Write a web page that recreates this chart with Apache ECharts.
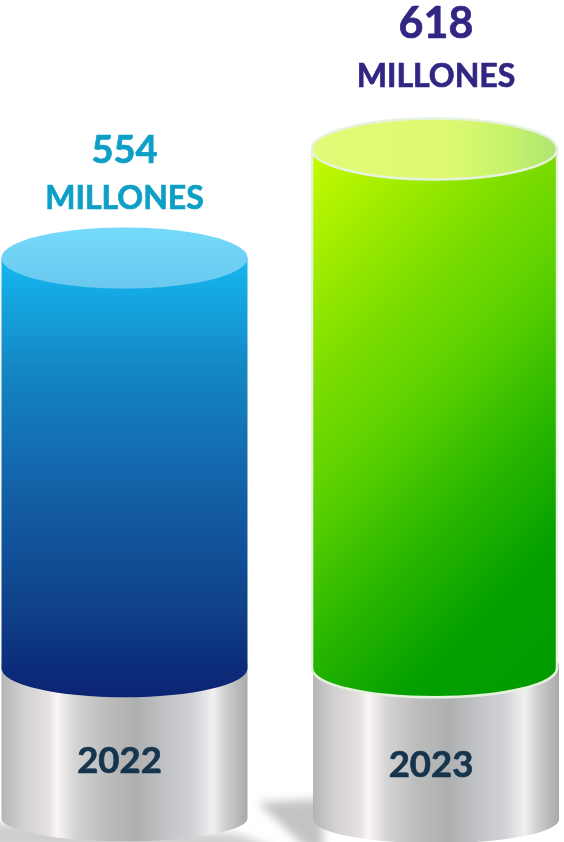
<!DOCTYPE html>
<html><head><meta charset="utf-8">
<script src="https://cdn.jsdelivr.net/npm/echarts@6/dist/echarts.min.js"></script>
<style>html,body{margin:0;padding:0;background:#fff}#c{width:564px;height:842px}</style>
</head><body><div id="c"></div>
<script>
const categories = ['2022', '2023'];
const values = [554, 618];
const unitLabel = 'MILLONES';
const baseValue = 313;

const looks = [
  { rx: 123, topRy: 30.5, botRy: 29, pedCx: 0, pedRx: 123, pedH: 150, pedRy: 23, yearDy: 93,
    valueDy: -107, valueSize: 38, unitDy: -59, textCx: 0, valueColor: '#0e9fc6', unitColor: '#0e9fc6', border: null,
    body: { type: 'linear', x: 0, y: 0, x2: 0, y2: 1, colorStops: [
      { offset: 0, color: '#15b8f0' }, { offset: 0.25, color: '#1487c4' },
      { offset: 0.55, color: '#135ea5' }, { offset: 0.8, color: '#0f4189' }, { offset: 1, color: '#0b2373' }] },
    top: { type: 'linear', x: 0, y: 0, x2: 0, y2: 1, colorStops: [
      { offset: 0, color: '#74dafb' }, { offset: 1, color: '#6bc8ef' }] } },
  { rx: 122.5, topRy: 30.5, botRy: 29, pedCx: 1.5, pedRx: 123, pedH: 151, pedRy: 24, yearDy: 97,
    valueDy: -125, valueSize: 43, unitDy: -72, textCx: 1.5, valueColor: '#312783', unitColor: '#312783', border: '#e6f2de',
    body: { type: 'linear', x: 0, y: 0, x2: 1.61, y2: 0.725, colorStops: [
      { offset: 0, color: '#c8fc00' }, { offset: 0.3, color: '#7cdd00' }, { offset: 0.46, color: '#5ad000' },
      { offset: 0.61, color: '#30ba00' }, { offset: 0.8, color: '#04a000' }, { offset: 1, color: '#009a00' }] },
    top: { type: 'linear', x: 0, y: 0, x2: 1, y2: 0, colorStops: [
      { offset: 0, color: '#e2fb78' }, { offset: 0.55, color: '#def970' }, { offset: 0.8, color: '#c6f26c' }, { offset: 1, color: '#aee472' }] } }
];

const silver = { type: 'linear', x: 0, y: 0, x2: 1, y2: 0, colorStops: [
  { offset: 0, color: '#b4b4b4' }, { offset: 0.08, color: '#d0cfcf' }, { offset: 0.19, color: '#e6e0e0' },
  { offset: 0.225, color: '#fbf6f6' }, { offset: 0.3, color: '#d4d4d4' }, { offset: 0.42, color: '#bdbdbd' },
  { offset: 0.55, color: '#aeafb0' }, { offset: 0.7, color: '#c6c8cb' }, { offset: 0.78, color: '#d0d2d5' },
  { offset: 0.86, color: '#f1f1f2' }, { offset: 0.91, color: '#cfcfcf' }, { offset: 1, color: '#a9a9a9' }] };

const FONT = 'Lato, "Open Sans", sans-serif';
const OFF = 3000;

function softShadow(points, color, blur) {
  return { type: 'polygon', shape: { points: points.map(p => [p[0] - OFF, p[1]]) },
    style: { fill: '#000', shadowBlur: blur, shadowColor: color, shadowOffsetX: OFF, shadowOffsetY: 0 } };
}
function label(text, x, y, color, size) {
  return { type: 'text', style: { text, x, y, align: 'center', verticalAlign: 'middle', fill: color,
    stroke: color, lineWidth: 0.7, font: `bold ${size}px ${FONT}` } };
}

function renderCylinder(params, api) {
  const i = params.dataIndex;
  const L = looks[i];
  const top = api.coord([api.value(0), api.value(1)]);
  const base = api.coord([api.value(0), baseValue]);
  const cx = top[0], yT = top[1], yB = base[1];
  const x0 = cx - L.rx, x1 = cx + L.rx;
  const px = base[0] + L.pedCx, p0 = px - L.pedRx, p1 = px + L.pedRx, pB = yB + L.pedH;

  const pedPath = `M${p0} ${yB - 5}L${p1} ${yB - 5}L${p1} ${pB}A${L.pedRx} ${L.pedRy} 0 0 1 ${p0} ${pB}Z`;
  const bodyPath = `M${x0} ${yT}L${x0} ${yB}A${L.rx} ${L.botRy} 0 0 0 ${x1} ${yB}L${x1} ${yT}Z`;
  const sw = L.border ? { stroke: L.border, lineWidth: 2.5 } : {};

  const kids = [];
  kids.push(i === 0
    ? softShadow([[p0 - 20, pB + 4], [p1 - 10, pB + 16], [p1 + 30, pB + 30], [p0 - 20, pB + 30]], 'rgba(165,165,165,0.55)', 8)
    : softShadow([[p0 - 55, pB - 17], [p0 + 10, pB - 20], [p0 + 10, pB + 30], [p0 - 6, pB + 30]], 'rgba(140,140,140,0.52)', 10));
  kids.push({ type: 'path', shape: { pathData: pedPath, x: p0, y: yB - 5, width: p1 - p0, height: L.pedH + 5 + L.pedRy }, layout: 'cover', style: { fill: silver } });
  kids.push({ type: 'path', shape: { pathData: bodyPath, x: x0, y: yT, width: x1 - x0, height: yB - yT + L.botRy }, layout: 'cover', style: Object.assign({ fill: L.body }, sw) });
  kids.push({ type: 'ellipse', shape: { cx, cy: yT, rx: L.rx, ry: L.topRy }, style: Object.assign({ fill: L.top }, sw) });
  kids.push(label(String(api.value(1)), cx + L.textCx, yT + L.valueDy, L.valueColor, L.valueSize));
  kids.push(label(unitLabel, cx + L.textCx, yT + L.unitDy, L.unitColor, 32));
  kids.push(label(categories[i], px - 5, yB + L.yearDy, '#17344d', 36.5));
  return { type: 'group', children: kids };
}

const chart = echarts.init(document.getElementById('c'), null, { renderer: 'canvas' });
chart.setOption({
  animation: false,
  backgroundColor: '#ffffff',
  grid: { left: 0, right: 0, top: 0, bottom: 0 },
  xAxis: { type: 'value', min: -0.4016, max: 1.4177, show: false },
  yAxis: { type: 'value', min: 211, max: 705.5, show: false },
  series: [{
    type: 'custom',
    clip: false,
    renderItem: renderCylinder,
    encode: { x: 0, y: 1 },
    data: categories.map((c, i) => [i, values[i]])
  }]
});
</script></body></html>
